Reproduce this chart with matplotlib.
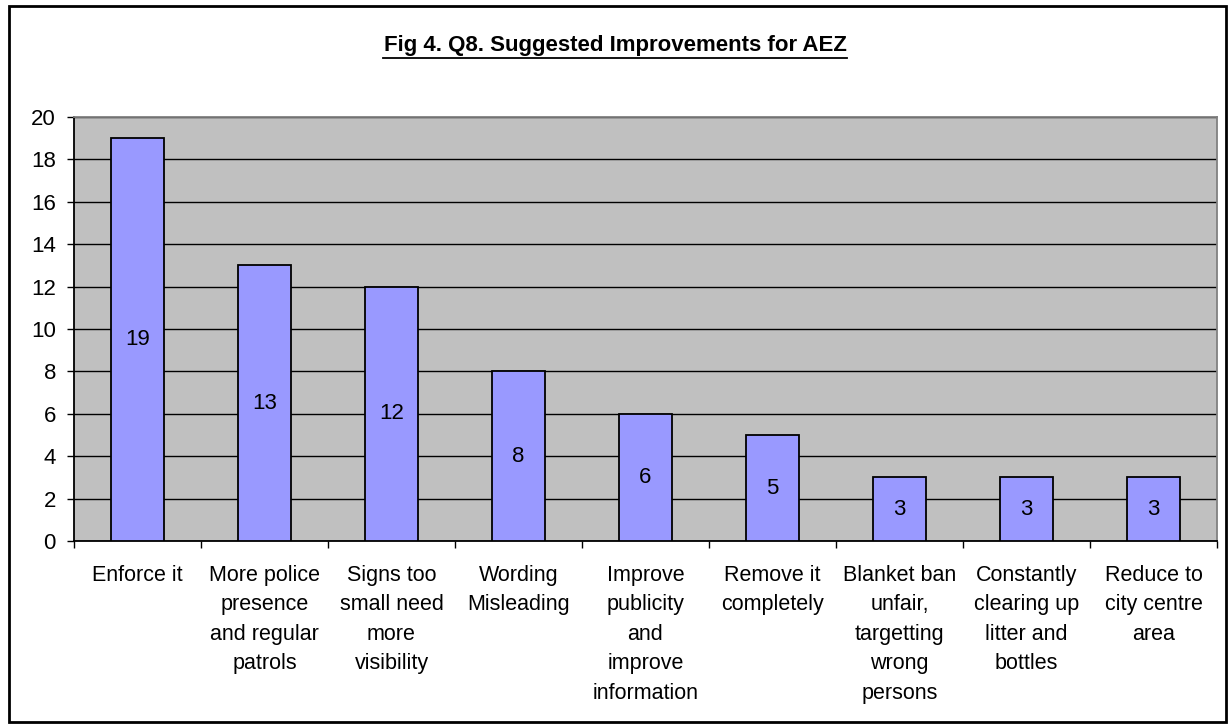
import matplotlib.pyplot as plt
from matplotlib.patches import Rectangle

# survey answers, Q8
categories = [
    "Enforce it",
    "More police\npresence\nand regular\npatrols",
    "Signs too\nsmall need\nmore\nvisibility",
    "Wording\nMisleading",
    "Improve\npublicity\nand\nimprove\ninformation",
    "Remove it\ncompletely",
    "Blanket ban\nunfair,\ntargetting\nwrong\npersons",
    "Constantly\nclearing up\nlitter and\nbottles",
    "Reduce to\ncity centre\narea",
]
counts = [19, 13, 12, 8, 6, 5, 3, 3, 3]
y_ticks = list(range(0, 21, 2))

plt.rcParams['font.family'] = ['Liberation Sans', 'DejaVu Sans']

fig = plt.figure(figsize=(12.31, 7.27), dpi=100)
ax = fig.add_axes([74 / 1231, 1 - 541 / 727, (1217 - 74) / 1231, (541 - 117) / 727])

ax.set_facecolor('#C0C0C0')
x = list(range(len(categories)))
bars = ax.bar(x, counts, width=0.42, color='#9999FF', edgecolor='black', linewidth=1.3, zorder=3)
for rect, v in zip(bars, counts):
    ax.text(rect.get_x() + rect.get_width() / 2, v / 2, str(v), ha='center', va='center',
            fontsize=16, zorder=4)

ax.set_xlim(-0.5, len(categories) - 0.5)
ax.set_ylim(0, 20)
ax.set_yticks(y_ticks)
ax.set_yticklabels([str(t) for t in y_ticks], fontsize=16)
ax.yaxis.grid(True, color='black', linewidth=1.0, zorder=0)
ax.set_axisbelow(True)

ax.set_xticks(x)
ax.set_xticklabels(categories, fontsize=15.5, linespacing=1.53, va='top')
ax.set_xticks([i - 0.5 for i in range(len(categories) + 1)], minor=True)
ax.tick_params(axis='x', which='major', length=0, pad=17)
ax.tick_params(axis='x', which='minor', length=5, width=1.0, direction='out')
ax.tick_params(axis='y', length=5, width=1.0, direction='out', pad=8)

for side in ['left', 'bottom']:
    ax.spines[side].set_color('black')
    ax.spines[side].set_linewidth(1.3)
for side in ['top', 'right']:
    ax.spines[side].set_color('#808080')
    ax.spines[side].set_linewidth(1.3)

fig.text(615 / 1231, 1 - 46 / 727, "Fig 4. Q8. Suggested Improvements for AEZ",
         ha='center', va='center', fontsize=16, fontweight='bold')
# underline for the title
fig.add_artist(plt.Line2D([383 / 1231, 847 / 1231], [1 - 58 / 727, 1 - 58 / 727],
                          color='black', linewidth=1.3))

# chart border
fig.add_artist(Rectangle((9 / 1231, 1 - 722 / 727), (1226 - 9) / 1231, (722 - 6) / 727,
                         transform=fig.transFigure, fill=False, edgecolor='black', linewidth=2))

fig.savefig('out.png', dpi=100)
